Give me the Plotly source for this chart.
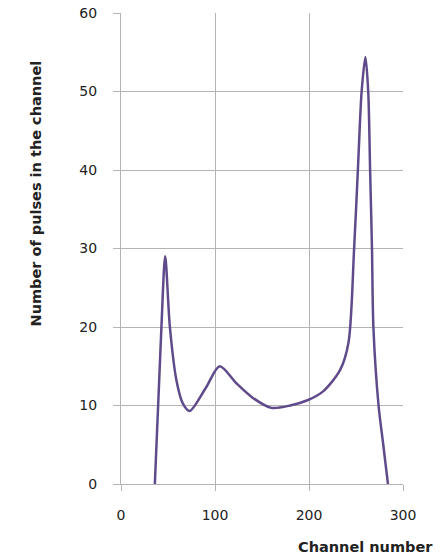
import plotly.graph_objects as go

channel = [36, 43, 47, 52, 59, 66, 73, 90, 105, 123, 140, 160, 180, 199, 215, 233, 242, 248, 252, 256, 260, 263, 265, 267, 268.5, 274, 279, 284]
pulses = [0, 20, 29, 20, 13.2, 10.2, 9.3, 12.2, 15.0, 12.8, 11.0, 9.7, 10.0, 10.7, 11.8, 14.5, 18, 30, 40, 50, 54.4, 50, 40, 30, 20, 10, 5, 0]

x_ticks = [0, 100, 200, 300]
y_ticks = [0, 10, 20, 30, 40, 50, 60]

FONT = "'DejaVu Sans', Verdana, sans-serif"
GRID = "#b3b3b3"

W, H = 442, 558
L, T = 121, 13
R = W - L - 282
B = H - T - 471

fig = go.Figure()
fig.add_trace(go.Scatter(
    x=channel, y=pulses, mode="lines",
    line=dict(color="#5f4b8b", width=2.5, shape="spline", smoothing=0.8),
    showlegend=False, hoverinfo="x+y",
))

fig.update_layout(
    width=W, height=H,
    margin=dict(l=L, r=R, t=T, b=B, autoexpand=False),
    paper_bgcolor="white", plot_bgcolor="white",
    font=dict(family=FONT, size=14, color="#222"),
    xaxis=dict(
        range=[0, 300], tickvals=x_ticks, showgrid=True, gridcolor=GRID, gridwidth=1.3,
        showline=True, linecolor=GRID, linewidth=1.3, ticks="outside", ticklen=6,
        tickcolor=GRID, tickwidth=1.3, zeroline=False, ticklabelstandoff=12,
        tickfont=dict(size=14), automargin=False,
    ),
    yaxis=dict(
        range=[0, 60], tickvals=y_ticks, showgrid=True, gridcolor=GRID, gridwidth=1.3,
        showline=True, linecolor=GRID, linewidth=1.3, ticks="outside", ticklen=7,
        tickcolor=GRID, tickwidth=1.3, zeroline=False, ticklabelstandoff=13,
        tickfont=dict(size=14), automargin=False,
    ),
    annotations=[
        dict(text="<b>Number of pulses in the channel</b>", xref="paper", yref="paper",
             x=(35.5 - 121) / 282, y=(484 - 194) / 471, textangle=-90, showarrow=False,
             xanchor="center", yanchor="middle",
             font=dict(size=14.5, family=FONT, color="#222")),
        dict(text="<b>Channel number</b>", xref="paper", yref="paper",
             x=(365 - 121) / 282, y=(484 - 547) / 471, showarrow=False,
             xanchor="center", yanchor="middle",
             font=dict(size=14.5, family=FONT, color="#222")),
    ],
)

fig.write_html(
    "out.html",
    config={"displayModeBar": False},
    post_script="document.body.style.margin='0';document.body.style.overflow='hidden';",
)
